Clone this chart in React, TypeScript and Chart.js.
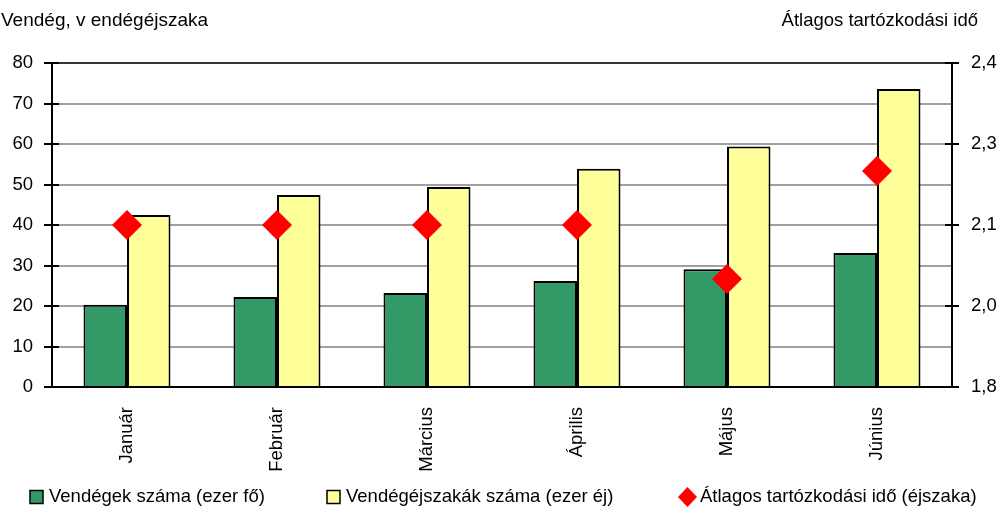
import React, { useEffect, useRef } from "react";
import { Chart, registerables } from "chart.js";

Chart.register(...registerables);

const categories = ["Január", "Február", "Március", "Április", "Május", "Június"];
const guests = [20.3, 22.2, 23.2, 26.2, 29.1, 33.1];
const guestNights = [42.5, 47.4, 49.4, 53.9, 59.4, 73.6];
const avgStay = [2.1, 2.1, 2.1, 2.1, 2.0, 2.2];
const rightTickLabels = ["1,8", "2,0", "2,1", "2,3", "2,4"];
const seriesLabels = [
  "Vendégek száma (ezer fő)",
  "Vendégéjszakák száma (ezer éj)",
  "Átlagos tartózkodási idő (éjszaka)",
];
const leftTitle = "Vendég, v endégéjszaka";
const rightTitle = "Átlagos tartózkodási idő";

const FONT = "'Liberation Sans', Arial, sans-serif";
const GREEN = "#339966";
const YELLOW = "#FFFF99";
const RED = "#FF0000";

const decorPlugin = {
  id: "decor",
  afterDraw(chart: any) {
    const ctx = chart.ctx;
    const y = chart.scales.y;
    const y1 = chart.scales.y1;
    const area = chart.chartArea;
    ctx.save();
    // inner tick marks
    ctx.strokeStyle = "#000";
    ctx.lineWidth = 2;
    y.ticks.forEach((t: any) => {
      const py = Math.round(y.getPixelForValue(t.value));
      ctx.beginPath();
      ctx.moveTo(area.left, py);
      ctx.lineTo(area.left + 7, py);
      ctx.stroke();
    });
    y1.ticks.forEach((t: any) => {
      const py = Math.round(y1.getPixelForValue(t.value));
      ctx.beginPath();
      ctx.moveTo(area.right - 7, py);
      ctx.lineTo(area.right, py);
      ctx.stroke();
    });
    // titles
    ctx.fillStyle = "#000";
    ctx.font = `19px ${FONT}`;
    ctx.textBaseline = "alphabetic";
    ctx.textAlign = "left";
    ctx.fillText(leftTitle, 1, 26);
    ctx.font = `18.5px ${FONT}`;
    ctx.textAlign = "right";
    ctx.fillText(rightTitle, 978, 26);
    // legend
    ctx.font = `18.5px ${FONT}`;
    ctx.textAlign = "left";
    const ly = 497;
    const items = [
      { x: 30, kind: "box", color: GREEN, text: seriesLabels[0] },
      { x: 327, kind: "box", color: YELLOW, text: seriesLabels[1] },
      { x: 678, kind: "diamond", color: RED, text: seriesLabels[2] },
    ];
    items.forEach((it) => {
      if (it.kind === "box") {
        ctx.fillStyle = it.color;
        ctx.fillRect(it.x, ly - 6.5, 13, 13);
        ctx.strokeStyle = "#000";
        ctx.lineWidth = 1.5;
        ctx.strokeRect(it.x, ly - 6.5, 13, 13);
        ctx.fillStyle = "#000";
        ctx.textBaseline = "middle";
        ctx.fillText(it.text, it.x + 19, ly);
      } else {
        ctx.fillStyle = it.color;
        ctx.beginPath();
        ctx.moveTo(it.x + 9.5, ly - 10);
        ctx.lineTo(it.x + 19, ly);
        ctx.lineTo(it.x + 9.5, ly + 10);
        ctx.lineTo(it.x, ly);
        ctx.closePath();
        ctx.fill();
        ctx.fillStyle = "#000";
        ctx.textBaseline = "middle";
        ctx.fillText(it.text, it.x + 22, ly);
      }
    });
    ctx.restore();
  },
};

export default function App() {
  const ref = useRef<HTMLCanvasElement>(null);
  useEffect(() => {
    document.body.style.margin = "0";
    const chart = new Chart(ref.current as HTMLCanvasElement, {
      type: "bar",
      data: {
        labels: categories,
        datasets: [
          {
            type: "line",
            label: seriesLabels[2],
            data: avgStay,
            yAxisID: "y1",
            showLine: false,
            pointStyle: "rectRot",
            pointRadius: 15,
            pointHoverRadius: 15,
            pointBackgroundColor: RED,
            pointBorderWidth: 0,
            borderColor: RED,
            backgroundColor: RED,
          } as any,
          {
            label: seriesLabels[0],
            data: guests,
            backgroundColor: GREEN,
            borderColor: "#000",
            borderWidth: 2,
            yAxisID: "y",
            categoryPercentage: 0.58,
            barPercentage: 1,
          },
          {
            label: seriesLabels[1],
            data: guestNights,
            backgroundColor: YELLOW,
            borderColor: "#000",
            borderWidth: 2,
            yAxisID: "y",
            categoryPercentage: 0.58,
            barPercentage: 1,
          },
        ],
      },
      options: {
        responsive: false,
        animation: false,
        layout: { padding: { top: 63, left: 0, right: 0, bottom: 0 } },
        plugins: {
          legend: { display: false },
          tooltip: { enabled: false },
        },
        scales: {
          x: {
            offset: true,
            grid: { display: false, drawTicks: false },
            border: { display: true, color: "#000", width: 2 },
            ticks: {
              minRotation: 90,
              maxRotation: 90,
              padding: 20,
              color: "#000",
              font: { family: FONT, size: 18.5 },
            },
            afterFit(scale: any) {
              scale.height = 121;
            },
          },
          y: {
            position: "left",
            min: 0,
            max: 80,
            ticks: {
              stepSize: 10,
              padding: 11,
              color: "#000",
              font: { family: FONT, size: 18.5 },
            },
            grid: {
              color: (c: any) => (c.tick && c.tick.value === 80 ? "#333" : "#a0a0a0"),
              lineWidth: 2,
              tickColor: "#000",
              tickLength: 8,
            },
            border: { color: "#000", width: 2 },
            afterFit(scale: any) {
              scale.width = 52;
            },
          },
          y1: {
            position: "right",
            min: 1.8,
            max: 2.4,
            ticks: {
              stepSize: 0.15,
              padding: 12,
              color: "#000",
              font: { family: FONT, size: 18.5 },
              callback: (_v: any, i: number) => rightTickLabels[i],
            },
            grid: {
              drawOnChartArea: false,
              color: "#000",
              lineWidth: 2,
              tickColor: "#000",
              tickLength: 7,
            },
            border: { color: "#000", width: 2 },
            afterFit(scale: any) {
              scale.width = 47;
            },
          },
        },
      },
      plugins: [decorPlugin],
    });
    return () => chart.destroy();
  }, []);
  return <canvas ref={ref} width={999} height={508} style={{ display: "block" }} />;
}
